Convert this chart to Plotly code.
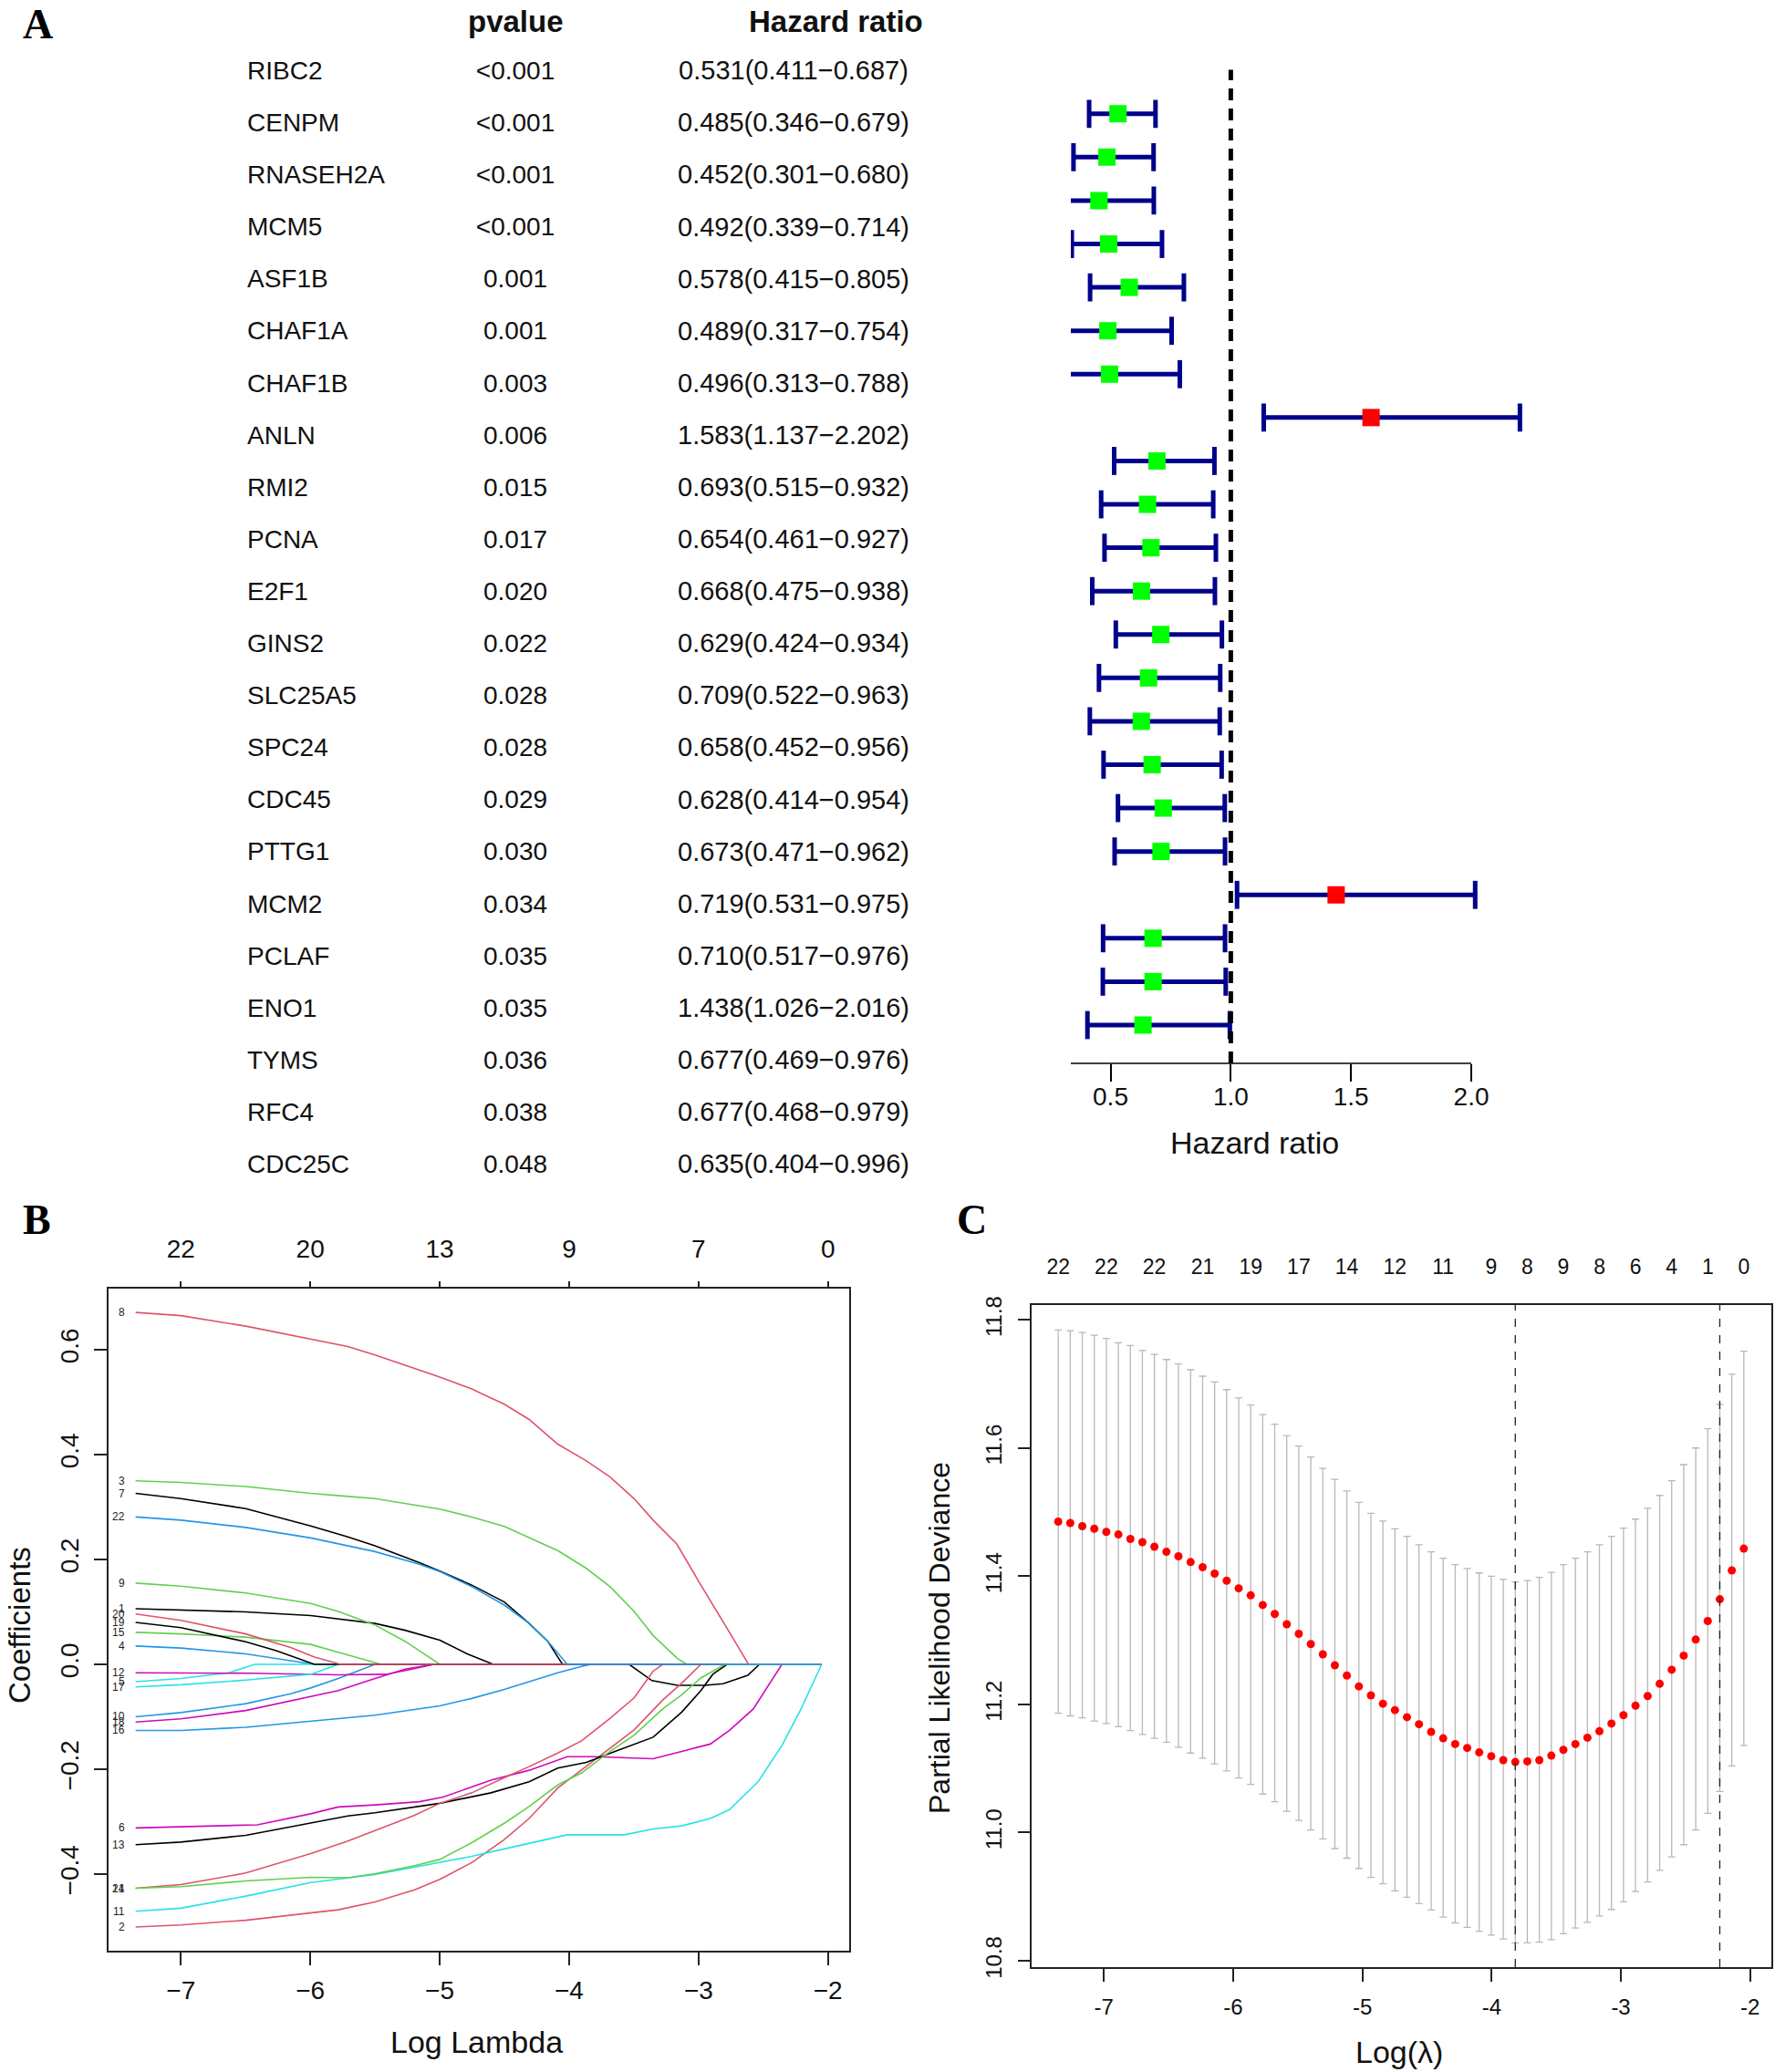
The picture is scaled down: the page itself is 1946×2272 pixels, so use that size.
import plotly.graph_objects as go

W, H = 1946, 2272
SANS = "Liberation Sans, Arial, Helvetica, sans-serif"
SERIF = "Liberation Serif, Times New Roman, serif"

# ---------------- Panel A data ----------------
GENES = ["RIBC2", "CENPM", "RNASEH2A", "MCM5", "ASF1B", "CHAF1A", "CHAF1B", "ANLN",
         "RMI2", "PCNA", "E2F1", "GINS2", "SLC25A5", "SPC24", "CDC45", "PTTG1",
         "MCM2", "PCLAF", "ENO1", "TYMS", "RFC4", "CDC25C"]
PVALUES = ["<0.001", "<0.001", "<0.001", "<0.001", "0.001", "0.001", "0.003", "0.006",
           "0.015", "0.017", "0.020", "0.022", "0.028", "0.028", "0.029", "0.030",
           "0.034", "0.035", "0.035", "0.036", "0.038", "0.048"]
HR = [0.531, 0.485, 0.452, 0.492, 0.578, 0.489, 0.496, 1.583, 0.693, 0.654, 0.668,
      0.629, 0.709, 0.658, 0.628, 0.673, 0.719, 0.710, 1.438, 0.677, 0.677, 0.635]
HR_LOW = [0.411, 0.346, 0.301, 0.339, 0.415, 0.317, 0.313, 1.137, 0.515, 0.461, 0.475,
          0.424, 0.522, 0.452, 0.414, 0.471, 0.531, 0.517, 1.026, 0.469, 0.468, 0.404]
HR_HIGH = [0.687, 0.679, 0.680, 0.714, 0.805, 0.754, 0.788, 2.202, 0.932, 0.927, 0.938,
           0.934, 0.963, 0.956, 0.954, 0.962, 0.975, 0.976, 2.016, 0.976, 0.979, 0.996]
TABLE_HEADERS = ["pvalue", "Hazard ratio"]
HR_TICKS = [0.5, 1.0, 1.5, 2.0]
HR_TICKTEXT = ["0.5", "1.0", "1.5", "2.0"]
HR_RANGE = [0.335, 2.25]
HR_AXIS_END = 2.0

# ---------------- Panel B data (log lambda, coefficient) ----------------
PATH_1 = [(-7.350, 0.106), (-7.0, 0.104), (-6.499, 0.100), (-5.997, 0.093), (-5.500, 0.078), (-5.268, 0.065),
          (-4.999, 0.046), (-4.788, 0.020), (-4.586, 0.0), (-3.536, 0.0), (-3.360, -0.031), (-3.162, -0.040),
          (-2.951, -0.040), (-2.810, -0.037), (-2.620, -0.021), (-2.529, 0.0), (-2.049, 0.0)]
PATH_2 = [(-7.350, -0.501), (-7.0, -0.497), (-6.499, -0.488), (-5.997, -0.474), (-5.784, -0.468), (-5.500, -0.453),
          (-5.194, -0.430), (-4.999, -0.410), (-4.752, -0.378), (-4.501, -0.334), (-4.309, -0.294), (-4.088, -0.236),
          (-3.904, -0.201), (-3.683, -0.160), (-3.498, -0.125), (-3.277, -0.068), (-3.130, -0.036), (-2.982, 0.0),
          (-2.049, 0.0)]
PATH_3 = [(-7.350, 0.350), (-7.0, 0.347), (-6.499, 0.339), (-5.997, 0.326), (-5.747, 0.321), (-5.500, 0.316),
          (-4.999, 0.296), (-4.752, 0.281), (-4.501, 0.263), (-4.309, 0.241), (-4.088, 0.217), (-3.867, 0.183),
          (-3.683, 0.148), (-3.498, 0.101), (-3.351, 0.055), (-3.167, 0.012), (-3.093, 0.0), (-2.049, 0.0)]
PATH_4 = [(-7.350, 0.035), (-7.0, 0.031), (-6.499, 0.020), (-6.152, 0.007), (-5.968, 0.0), (-2.049, 0.0)]
PATH_5 = [(-7.350, -0.033), (-7.0, -0.027), (-6.631, -0.016), (-6.429, 0.0), (-2.049, 0.0)]
PATH_6 = [(-7.350, -0.312), (-7.0, -0.310), (-6.410, -0.306), (-5.997, -0.285), (-5.784, -0.272), (-5.500, -0.268),
          (-5.157, -0.262), (-4.973, -0.253), (-4.604, -0.221), (-4.309, -0.202), (-4.014, -0.176), (-3.793, -0.176),
          (-3.572, -0.178), (-3.351, -0.180), (-3.130, -0.166), (-2.909, -0.152), (-2.761, -0.126), (-2.577, -0.085),
          (-2.356, 0.0), (-2.049, 0.0)]
PATH_7 = [(-7.350, 0.326), (-7.0, 0.316), (-6.499, 0.297), (-5.997, 0.264), (-5.710, 0.243), (-5.500, 0.226),
          (-5.157, 0.194), (-4.999, 0.178), (-4.752, 0.151), (-4.501, 0.119), (-4.309, 0.078), (-4.162, 0.043),
          (-4.088, 0.014), (-4.051, 0.0), (-2.049, 0.0)]
PATH_8 = [(-7.350, 0.671), (-7.0, 0.665), (-6.499, 0.645), (-5.997, 0.620), (-5.710, 0.606), (-5.500, 0.590),
          (-4.999, 0.548), (-4.752, 0.525), (-4.501, 0.496), (-4.309, 0.467), (-4.088, 0.420), (-3.867, 0.388),
          (-3.683, 0.357), (-3.498, 0.316), (-3.351, 0.275), (-3.167, 0.229), (-3.001, 0.159), (-2.761, 0.061),
          (-2.614, 0.0), (-2.049, 0.0)]
PATH_9 = [(-7.350, 0.155), (-7.0, 0.149), (-6.499, 0.136), (-5.997, 0.116), (-5.784, 0.101), (-5.500, 0.075),
          (-5.268, 0.044), (-5.120, 0.020), (-4.999, 0.0), (-2.049, 0.0)]
PATH_10 = [(-7.350, -0.100), (-7.0, -0.092), (-6.499, -0.075), (-6.152, -0.056), (-5.997, -0.045), (-5.784, -0.027),
           (-5.500, 0.0), (-2.049, 0.0)]
PATH_11 = [(-7.350, -0.471), (-7.0, -0.465), (-6.499, -0.442), (-5.997, -0.416), (-5.500, -0.401), (-5.194, -0.387),
           (-4.999, -0.378), (-4.752, -0.366), (-4.501, -0.352), (-4.235, -0.337), (-4.014, -0.325), (-3.793, -0.325),
           (-3.572, -0.325), (-3.351, -0.314), (-3.130, -0.308), (-2.909, -0.294), (-2.761, -0.277), (-2.540, -0.224),
           (-2.356, -0.155), (-2.208, -0.085), (-2.049, 0.0)]
PATH_12 = [(-7.350, -0.016), (-6.447, -0.017), (-5.784, -0.020), (-5.415, -0.019), (-5.231, -0.010), (-5.046, 0.0),
           (-2.049, 0.0)]
PATH_13 = [(-7.350, -0.344), (-7.0, -0.339), (-6.499, -0.326), (-5.997, -0.303), (-5.710, -0.289), (-5.500, -0.283),
           (-4.999, -0.265), (-4.604, -0.245), (-4.309, -0.224), (-4.088, -0.198), (-3.867, -0.187), (-3.646, -0.166),
           (-3.351, -0.139), (-3.130, -0.091), (-2.982, -0.050), (-2.890, -0.019), (-2.798, -0.004), (-2.780, 0.0),
           (-2.049, 0.0)]
PATH_14 = [(-7.350, -0.427), (-7.0, -0.420), (-6.499, -0.398), (-5.997, -0.361), (-5.710, -0.337), (-5.500, -0.317),
           (-5.194, -0.288), (-4.999, -0.265), (-4.752, -0.245), (-4.501, -0.216), (-4.309, -0.195), (-4.088, -0.169),
           (-3.904, -0.146), (-3.683, -0.103), (-3.498, -0.064), (-3.351, -0.013), (-3.277, 0.0), (-2.049, 0.0)]
PATH_15 = [(-7.350, 0.061), (-7.0, 0.058), (-6.499, 0.052), (-5.997, 0.038), (-5.784, 0.023), (-5.452, 0.0),
           (-2.049, 0.0)]
PATH_16 = [(-7.350, -0.126), (-7.0, -0.126), (-6.499, -0.120), (-5.997, -0.108), (-5.784, -0.103), (-5.500, -0.097),
           (-4.999, -0.079), (-4.752, -0.065), (-4.501, -0.048), (-4.309, -0.033), (-4.088, -0.016), (-3.904, -0.004),
           (-3.830, 0.0), (-2.049, 0.0)]
PATH_17 = [(-7.350, -0.043), (-7.0, -0.039), (-6.499, -0.030), (-5.997, -0.019), (-5.784, 0.0), (-2.049, 0.0)]
PATH_18 = [(-7.350, -0.110), (-7.0, -0.104), (-6.499, -0.088), (-5.997, -0.062), (-5.784, -0.050), (-5.500, -0.027),
           (-5.268, -0.009), (-5.046, 0.0), (-2.049, 0.0)]
PATH_19 = [(-7.350, 0.080), (-7.0, 0.070), (-6.499, 0.043), (-6.263, 0.026), (-5.968, 0.0), (-2.049, 0.0)]
PATH_20 = [(-7.350, 0.096), (-7.0, 0.084), (-6.499, 0.058), (-6.152, 0.032), (-5.968, 0.014), (-5.765, 0.0),
           (-2.049, 0.0)]
PATH_21 = [(-7.350, -0.427), (-7.0, -0.424), (-6.499, -0.413), (-5.997, -0.406), (-5.710, -0.407), (-5.500, -0.399),
           (-5.194, -0.384), (-4.999, -0.372), (-4.752, -0.340), (-4.501, -0.303), (-4.309, -0.271), (-4.088, -0.230),
           (-3.904, -0.207), (-3.683, -0.166), (-3.498, -0.135), (-3.277, -0.085), (-3.130, -0.058), (-2.982, -0.026),
           (-2.798, 0.0), (-2.049, 0.0)]
PATH_22 = [(-7.350, 0.281), (-7.0, 0.275), (-6.499, 0.261), (-5.997, 0.241), (-5.500, 0.215), (-5.157, 0.191),
           (-4.999, 0.177), (-4.752, 0.148), (-4.501, 0.113), (-4.309, 0.078), (-4.162, 0.043), (-4.014, 0.0),
           (-2.049, 0.0)]
PATHS = [PATH_1, PATH_2, PATH_3, PATH_4, PATH_5, PATH_6, PATH_7, PATH_8, PATH_9, PATH_10, PATH_11,
         PATH_12, PATH_13, PATH_14, PATH_15, PATH_16, PATH_17, PATH_18, PATH_19, PATH_20, PATH_21, PATH_22]
R_PALETTE = ["#000000", "#DF536B", "#61D04F", "#2297E6", "#28E2E5", "#CD0BBC"]
B_XTICKS = [-7, -6, -5, -4, -3, -2]
B_XTICKTEXT = ["\u22127", "\u22126", "\u22125", "\u22124", "\u22123", "\u22122"]
B_TOPTEXT = ["22", "20", "13", "9", "7", "0"]
B_YTICKS = [-0.4, -0.2, 0.0, 0.2, 0.4, 0.6]
B_YTICKTEXT = ["\u22120.4", "\u22120.2", "0.0", "0.2", "0.4", "0.6"]
LOGLAMBDA_RANGE = [-7.559, -1.836]
B_YRANGE = [-0.5461, 0.7165]

# ---------------- Panel C data ----------------
LOG_LAMBDA = [-7.353, -7.260, -7.167, -7.074, -6.981, -6.888, -6.795, -6.702, -6.609, -6.516,
              -6.423, -6.329, -6.236, -6.143, -6.050, -5.957, -5.864, -5.771, -5.678, -5.585,
              -5.492, -5.399, -5.306, -5.213, -5.120, -5.027, -4.934, -4.841, -4.748, -4.655,
              -4.562, -4.468, -4.375, -4.282, -4.189, -4.096, -4.003, -3.910, -3.817, -3.724,
              -3.631, -3.538, -3.445, -3.352, -3.259, -3.166, -3.073, -2.980, -2.887, -2.793,
              -2.700, -2.607, -2.514, -2.421, -2.328, -2.235, -2.142, -2.049]
CV_MEAN = [11.485, 11.483, 11.478, 11.474, 11.469, 11.465, 11.458, 11.453, 11.446, 11.438,
           11.431, 11.422, 11.414, 11.404, 11.393, 11.381, 11.370, 11.355, 11.341, 11.325,
           11.310, 11.294, 11.278, 11.261, 11.245, 11.228, 11.214, 11.201, 11.191, 11.180,
           11.169, 11.157, 11.147, 11.138, 11.132, 11.125, 11.119, 11.113, 11.110, 11.111,
           11.113, 11.120, 11.129, 11.138, 11.148, 11.158, 11.170, 11.183, 11.198, 11.213,
           11.232, 11.254, 11.276, 11.301, 11.330, 11.364, 11.409, 11.443]
CV_UPPER = [11.784, 11.783, 11.780, 11.776, 11.771, 11.764, 11.760, 11.752, 11.746, 11.738,
            11.731, 11.722, 11.712, 11.703, 11.691, 11.678, 11.667, 11.652, 11.637, 11.619,
            11.603, 11.586, 11.568, 11.551, 11.533, 11.515, 11.498, 11.486, 11.474, 11.462,
            11.449, 11.438, 11.428, 11.418, 11.412, 11.405, 11.400, 11.395, 11.391, 11.393,
            11.398, 11.406, 11.418, 11.428, 11.438, 11.449, 11.462, 11.475, 11.489, 11.506,
            11.526, 11.549, 11.574, 11.600, 11.630, 11.668, 11.715, 11.751]
CV_LOWER = [11.186, 11.182, 11.179, 11.174, 11.170, 11.165, 11.159, 11.153, 11.147, 11.141,
            11.133, 11.124, 11.116, 11.107, 11.096, 11.085, 11.075, 11.060, 11.048, 11.033,
            11.019, 11.004, 10.990, 10.975, 10.960, 10.944, 10.930, 10.920, 10.909, 10.899,
            10.889, 10.879, 10.868, 10.859, 10.852, 10.846, 10.840, 10.834, 10.828, 10.828,
            10.829, 10.833, 10.842, 10.851, 10.860, 10.870, 10.880, 10.892, 10.908, 10.923,
            10.941, 10.962, 10.981, 11.004, 11.030, 11.064, 11.104, 11.136]
NZ_INDEX = [0, 4, 8, 12, 16, 20, 24, 28, 32, 36, 39, 42, 45, 48, 51, 54, 57]
NZ_LABELS = ["22", "22", "22", "21", "19", "17", "14", "12", "11", "9", "8", "9", "8", "6", "4", "1", "0"]
LAMBDA_MIN = -3.817
LAMBDA_1SE = -2.235
C_XTICKS = [-7, -6, -5, -4, -3, -2]
C_XTICKTEXT = ["-7", "-6", "-5", "-4", "-3", "-2"]
C_YTICKS = [10.8, 11.0, 11.2, 11.4, 11.6, 11.8]
C_YTICKTEXT = ["10.8", "11.0", "11.2", "11.4", "11.6", "11.8"]
C_YRANGE = [10.790, 11.823]


def dx(a, b):
    return [a / W, b / W]


def dy(top, bottom):
    return [1 - bottom / H, 1 - top / H]


fig = go.Figure()

# ---------- Panel A: table text ----------
rows = list(range(1, len(GENES) + 1))
TXT = dict(family=SANS, size=28, color="#111111")
fig.add_trace(go.Scatter(x=[271] * len(GENES), y=rows, text=GENES, mode="text", textposition="middle right",
                         textfont=TXT, xaxis="x6", yaxis="y6", cliponaxis=False, hoverinfo="skip", showlegend=False))
fig.add_trace(go.Scatter(x=[565] * len(GENES), y=rows, text=PVALUES, mode="text", textposition="middle center",
                         textfont=TXT, xaxis="x6", yaxis="y6", cliponaxis=False, hoverinfo="skip", showlegend=False))
hr_text = [f"{h:.3f}({lo:.3f}\u2212{hi:.3f})" for h, lo, hi in zip(HR, HR_LOW, HR_HIGH)]
fig.add_trace(go.Scatter(x=[870] * len(GENES), y=rows, text=hr_text, mode="text", textposition="middle center",
                         textfont=dict(family=SANS, size=29, color="#111111"),
                         xaxis="x6", yaxis="y6", cliponaxis=False, hoverinfo="skip", showlegend=False))

# ---------- Panel A: forest ----------
ci_x, ci_y = [], []
for lo, hi, r in zip(HR_LOW, HR_HIGH, rows):
    ci_x += [lo, hi, None]
    ci_y += [r, r, None]
NAVY = "#00008B"
fig.add_trace(go.Scatter(x=ci_x, y=ci_y, mode="lines", line=dict(color=NAVY, width=5),
                         xaxis="x", yaxis="y", hoverinfo="skip", showlegend=False))
fig.add_trace(go.Scatter(x=HR_LOW + HR_HIGH, y=rows + rows, mode="markers", cliponaxis=True,
                         marker=dict(symbol="line-ns", size=22, line=dict(color=NAVY, width=5)),
                         xaxis="x", yaxis="y", hoverinfo="skip", showlegend=False))
fig.add_trace(go.Scatter(x=HR, y=rows, mode="markers",
                         marker=dict(symbol="square", size=19,
                                     color=["#FF0000" if h > 1 else "#00FF00" for h in HR],
                                     line=dict(width=0)),
                         xaxis="x", yaxis="y", hoverinfo="skip", showlegend=False))

# ---------- Panel B: coefficient paths ----------
for k, path in enumerate(PATHS, start=1):
    fig.add_trace(go.Scatter(x=[p[0] for p in path], y=[p[1] for p in path], mode="lines",
                             line=dict(color=R_PALETTE[(k - 1) % 6], width=1.6),
                             xaxis="x2", yaxis="y2", hoverinfo="skip", showlegend=False))
fig.add_trace(go.Scatter(x=B_XTICKS, y=[0] * len(B_XTICKS), mode="markers", marker=dict(opacity=0),
                         xaxis="x3", yaxis="y2", hoverinfo="skip", showlegend=False))

# ---------- Panel C: CV curve ----------
fig.add_trace(go.Scatter(
    x=LOG_LAMBDA, y=CV_MEAN, mode="markers",
    marker=dict(color="#FF0000", size=9),
    error_y=dict(type="data", symmetric=False,
                 array=[u - m for u, m in zip(CV_UPPER, CV_MEAN)],
                 arrayminus=[m - l for m, l in zip(CV_MEAN, CV_LOWER)],
                 color="#B8B8B8", thickness=1.3, width=4),
    xaxis="x4", yaxis="y4", hoverinfo="skip", showlegend=False))
fig.add_trace(go.Scatter(x=[LOG_LAMBDA[i] for i in NZ_INDEX], y=[CV_MEAN[i] for i in NZ_INDEX], mode="markers",
                         marker=dict(opacity=0), xaxis="x5", yaxis="y4", hoverinfo="skip", showlegend=False))

AX = dict(showgrid=False, zeroline=False, tickfont=dict(family=SANS, size=28, color="#111111"))
FRAME = dict(showline=True, mirror=True, linecolor="#222222", linewidth=1.5,
             ticks="outside", tickcolor="#222222", tickwidth=1.5)

layout = dict(
    width=W, height=H, margin=dict(l=0, r=0, t=0, b=0, autoexpand=False),
    paper_bgcolor="white", plot_bgcolor="rgba(0,0,0,0)", showlegend=False,
    font=dict(family=SANS, color="#111111"),
    # forest
    xaxis=dict(AX, domain=dx(1174, 1679), range=HR_RANGE, anchor="y", showline=False,
               tickvals=HR_TICKS, ticktext=HR_TICKTEXT, ticks="outside", ticklen=19, tickwidth=1.5,
               tickcolor="black", ticklabelstandoff=-8),
    yaxis=dict(domain=dy(76.5, 1166), range=[22.883, -0.015], visible=False, anchor="x"),
    # table
    xaxis6=dict(domain=[0, 1], range=[0, W], visible=False, anchor="y6"),
    yaxis6=dict(domain=dy(80, 1279), range=[22, 1], visible=False, anchor="x6"),
    # panel B
    xaxis2=dict(AX, **FRAME, domain=dx(119, 931), range=LOGLAMBDA_RANGE, anchor="y2",
                tickvals=B_XTICKS, ticktext=B_XTICKTEXT, ticklen=14, ticklabelstandoff=4),
    yaxis2=dict(AX, **FRAME, domain=dy(1413, 2139), range=B_YRANGE, anchor="x2",
                tickvals=B_YTICKS, ticktext=B_YTICKTEXT, ticklen=14, tickangle=-90, ticklabelstandoff=6),
    xaxis3=dict(AX, overlaying="x2", side="top", anchor="y2", range=LOGLAMBDA_RANGE,
                tickvals=B_XTICKS, ticktext=B_TOPTEXT, ticks="outside", ticklen=7, tickwidth=1.5,
                tickcolor="#222222", showline=False, ticklabelstandoff=15),
    # panel C
    xaxis4=dict(AX, **FRAME, domain=dx(1131, 1942), range=LOGLAMBDA_RANGE, anchor="y4",
                tickvals=C_XTICKS, ticktext=C_XTICKTEXT, ticklen=14, ticklabelstandoff=7),
    yaxis4=dict(AX, **FRAME, domain=dy(1431, 2157), range=C_YRANGE, anchor="x4",
                tickvals=C_YTICKS, ticktext=C_YTICKTEXT, ticklen=13, tickangle=-90, ticklabelstandoff=9),
    xaxis5=dict(AX, overlaying="x4", side="top", anchor="y4", range=LOGLAMBDA_RANGE,
                tickvals=[LOG_LAMBDA[i] for i in NZ_INDEX], ticktext=NZ_LABELS, ticks="",
                showline=False, ticklabelstandoff=28),
)
layout["xaxis4"]["tickfont"] = dict(family=SANS, size=24, color="#111111")
layout["yaxis4"]["tickfont"] = dict(family=SANS, size=24, color="#111111")
layout["xaxis5"]["tickfont"] = dict(family=SANS, size=23, color="#111111")
fig.update_layout(**layout)

# shapes: forest axis line, reference lines
shapes = [
    dict(type="line", xref="x", yref="y domain", x0=HR_RANGE[0], x1=HR_AXIS_END, y0=0, y1=0,
         line=dict(color="black", width=1.5)),
    dict(type="line", xref="x", yref="y domain", x0=1, x1=1, y0=0, y1=1,
         line=dict(color="black", width=5, dash="13px,9px")),
    dict(type="line", xref="x4", yref="y4 domain", x0=LAMBDA_MIN, x1=LAMBDA_MIN, y0=0, y1=1,
         line=dict(color="#222222", width=1.3, dash="dash")),
    dict(type="line", xref="x4", yref="y4 domain", x0=LAMBDA_1SE, x1=LAMBDA_1SE, y0=0, y1=1,
         line=dict(color="#222222", width=1.3, dash="dash")),
]
fig.update_layout(shapes=shapes)

ann = []
# panel letters
for letter, x, y in [("A", 41, 27), ("B", 40, 1337), ("C", 1065, 1337)]:
    ann.append(dict(text=f"<b>{letter}</b>", x=x / W, y=1 - y / H, xref="paper", yref="paper",
                    showarrow=False, xanchor="center", yanchor="middle",
                    font=dict(family=SERIF, size=46, color="black")))
# table headers
for t, x in zip(TABLE_HEADERS, [565, 916]):
    ann.append(dict(text=f"<b>{t}</b>", x=x / W, y=1 - 24 / H, xref="paper", yref="paper",
                    showarrow=False, xanchor="center", yanchor="middle",
                    font=dict(family=SANS, size=33, color="#111111")))
# axis titles
titles = [
    ("Hazard ratio", 1375, 1253, 0, 34),
    ("Coefficients", 21, 1782, -90, 33),
    ("Log Lambda", 522, 2239, 0, 34),
    ("Partial Likelihood Deviance", 1030, 1796, -90, 32),
    ("Log(\u03bb)", 1534, 2250, 0, 34),
]
for t, x, y, ang, sz in titles:
    ann.append(dict(text=t, x=x / W, y=1 - y / H, xref="paper", yref="paper", showarrow=False,
                    xanchor="center", yanchor="middle", textangle=ang,
                    font=dict(family=SANS, size=sz, color="#111111")))
# path labels in panel B
for k, path in enumerate(PATHS, start=1):
    ann.append(dict(text=str(k), x=path[0][0], y=path[0][1], xref="x2", yref="y2", showarrow=False,
                    xanchor="right", yanchor="middle", xshift=-10,
                    font=dict(family=SANS, size=12, color="#222222")))
fig.update_layout(annotations=ann)

fig.write_html("out.html", config={"displayModeBar": False},
               post_script="document.body.style.margin='0';document.body.style.overflow='hidden';")
